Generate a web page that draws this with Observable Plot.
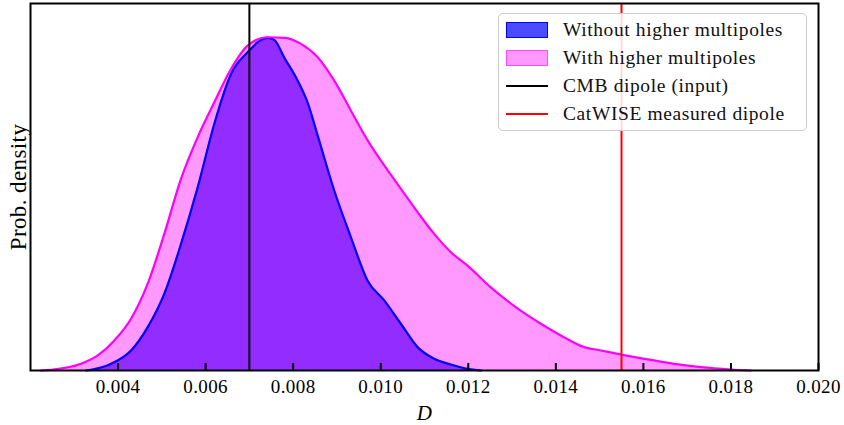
<!DOCTYPE html>
<html><head><meta charset="utf-8">
<script src="https://cdn.jsdelivr.net/npm/d3@7"></script>
<script src="https://cdn.jsdelivr.net/npm/@observablehq/plot@0.6"></script>
<style>
body{margin:0;background:#fff}
#wrap{position:relative;width:844px;height:425px;font-family:"Liberation Serif",serif}
#legend{position:absolute;left:498px;top:13px;width:309px;height:118px;box-sizing:border-box;border:1.5px solid #ccc;border-radius:5px;background:rgba(255,255,255,0.85)}
.row{position:absolute;left:0;height:28px;width:100%}
.sw{position:absolute;left:7px;width:42px;box-sizing:border-box}
.lbl{position:absolute;left:64px;font-size:19.5px;letter-spacing:0.6px;line-height:28px;top:0;white-space:nowrap;color:#111}
#wrap svg text{letter-spacing:0.4px}
</style></head>
<body><div id="wrap"></div>
<script>
// Without higher multipoles (blue)
const dBlue = [0.00327,0.003384,0.00384,0.004297,0.004678,0.005057,0.005438,0.00582,0.006199,0.00658,0.006998,0.00719,0.007418,0.007568,0.007797,0.008103,0.008331,0.008559,0.008938,0.00932,0.009701,0.01008,0.010461,0.010842,0.011221,0.011603,0.011984,0.01229];
const pBlue = [0,0.002,0.02,0.06,0.13,0.23,0.379,0.549,0.739,0.888,0.958,0.983,0.996,0.99,0.937,0.868,0.802,0.704,0.539,0.399,0.269,0.21,0.14,0.07,0.035,0.018,0.005,0];
// With higher multipoles (magenta)
const dMag = [0.00224,0.00247,0.003155,0.003537,0.003916,0.004297,0.004678,0.005057,0.005438,0.00582,0.006199,0.00658,0.006961,0.007418,0.007797,0.008178,0.008559,0.008938,0.00932,0.009701,0.01008,0.010461,0.010842,0.011221,0.011603,0.011984,0.012514,0.013084,0.013657,0.014113,0.014646,0.015027,0.015523,0.016016,0.016701,0.017311,0.017995,0.01845];
const pMag = [0,0.002,0.02,0.045,0.09,0.155,0.26,0.409,0.574,0.699,0.803,0.903,0.973,0.998,0.996,0.978,0.938,0.868,0.778,0.689,0.614,0.544,0.474,0.409,0.354,0.314,0.249,0.19,0.14,0.105,0.07,0.06,0.047,0.035,0.02,0.01,0.003,0];
const cmbDipole = 0.007;
const catwiseDipole = 0.0155;
const xTicks = [0.004,0.006,0.008,0.010,0.012,0.014,0.016,0.018,0.020];
const legendItems = [
  {label:"Without higher multipoles", kind:"patch", fill:"rgba(0,0,255,0.7)", stroke:"blue"},
  {label:"With higher multipoles", kind:"patch", fill:"rgba(255,0,255,0.4)", stroke:"rgba(255,0,255,0.5)"},
  {label:"CMB dipole (input)", kind:"line", stroke:"black"},
  {label:"CatWISE measured dipole", kind:"line", stroke:"red"}
];

const blue = dBlue.map((d,i)=>({D:d, p:pBlue[i]}));
const mag = dMag.map((d,i)=>({D:d, p:pMag[i]}));
const font = "Liberation Serif, serif";

const chart = Plot.plot({
  width: 844, height: 425,
  marginLeft: 30, marginRight: 26, marginTop: 3, marginBottom: 55,
  style: {fontFamily: font, fontSize: "19px", background: "white", color: "black"},
  x: {domain: [0.002, 0.020]},
  y: {domain: [0, 1.099], axis: null},
  marks: [
    Plot.areaY(blue, {x:"D", y:"p", fill:"blue", fillOpacity:0.7, curve:"monotone-x"}),
    Plot.areaY(mag, {x:"D", y:"p", fill:"magenta", fillOpacity:0.4, curve:"monotone-x"}),
    Plot.lineY(blue, {x:"D", y:"p", stroke:"blue", strokeWidth:2.2, curve:"monotone-x"}),
    Plot.lineY(mag, {x:"D", y:"p", stroke:"magenta", strokeWidth:2.2, curve:"monotone-x"}),
    Plot.ruleX([cmbDipole], {stroke:"black", strokeWidth:2}),
    Plot.ruleX([catwiseDipole], {stroke:"red", strokeWidth:2}),
    Plot.axisX({ticks: xTicks, tickFormat: d3.format(".3f"), tickSize: -7, tickPadding: 16, fontSize: 19, strokeWidth: 2, label: null}),
    Plot.frame({stroke:"black", strokeWidth:2}),
    Plot.text(["D"], {frameAnchor:"bottom", dy: 43, fontSize: 21, fontStyle:"italic", lineAnchor:"middle"}),
    Plot.text(["Prob. density"], {frameAnchor:"left", rotate:-90, dx:-12, fontSize: 23, textAnchor:"middle", lineAnchor:"middle"})
  ]
});
const wrap = document.getElementById("wrap");
wrap.appendChild(chart);
const leg = document.createElement("div");
leg.id = "legend";
legendItems.forEach((it,i)=>{
  const row = document.createElement("div");
  row.className = "row";
  row.style.top = (2 + i*28) + "px";
  const sw = document.createElement("div");
  sw.className = "sw";
  if (it.kind === "patch") {
    sw.style.top = "6px"; sw.style.height = "16px";
    sw.style.background = it.fill; sw.style.border = "1.5px solid " + it.stroke;
  } else {
    sw.style.top = "13px"; sw.style.height = "2px"; sw.style.background = it.stroke;
  }
  const t = document.createElement("div");
  t.className = "lbl"; t.textContent = it.label;
  row.appendChild(sw); row.appendChild(t);
  leg.appendChild(row);
});
wrap.appendChild(leg);
</script></body></html>
